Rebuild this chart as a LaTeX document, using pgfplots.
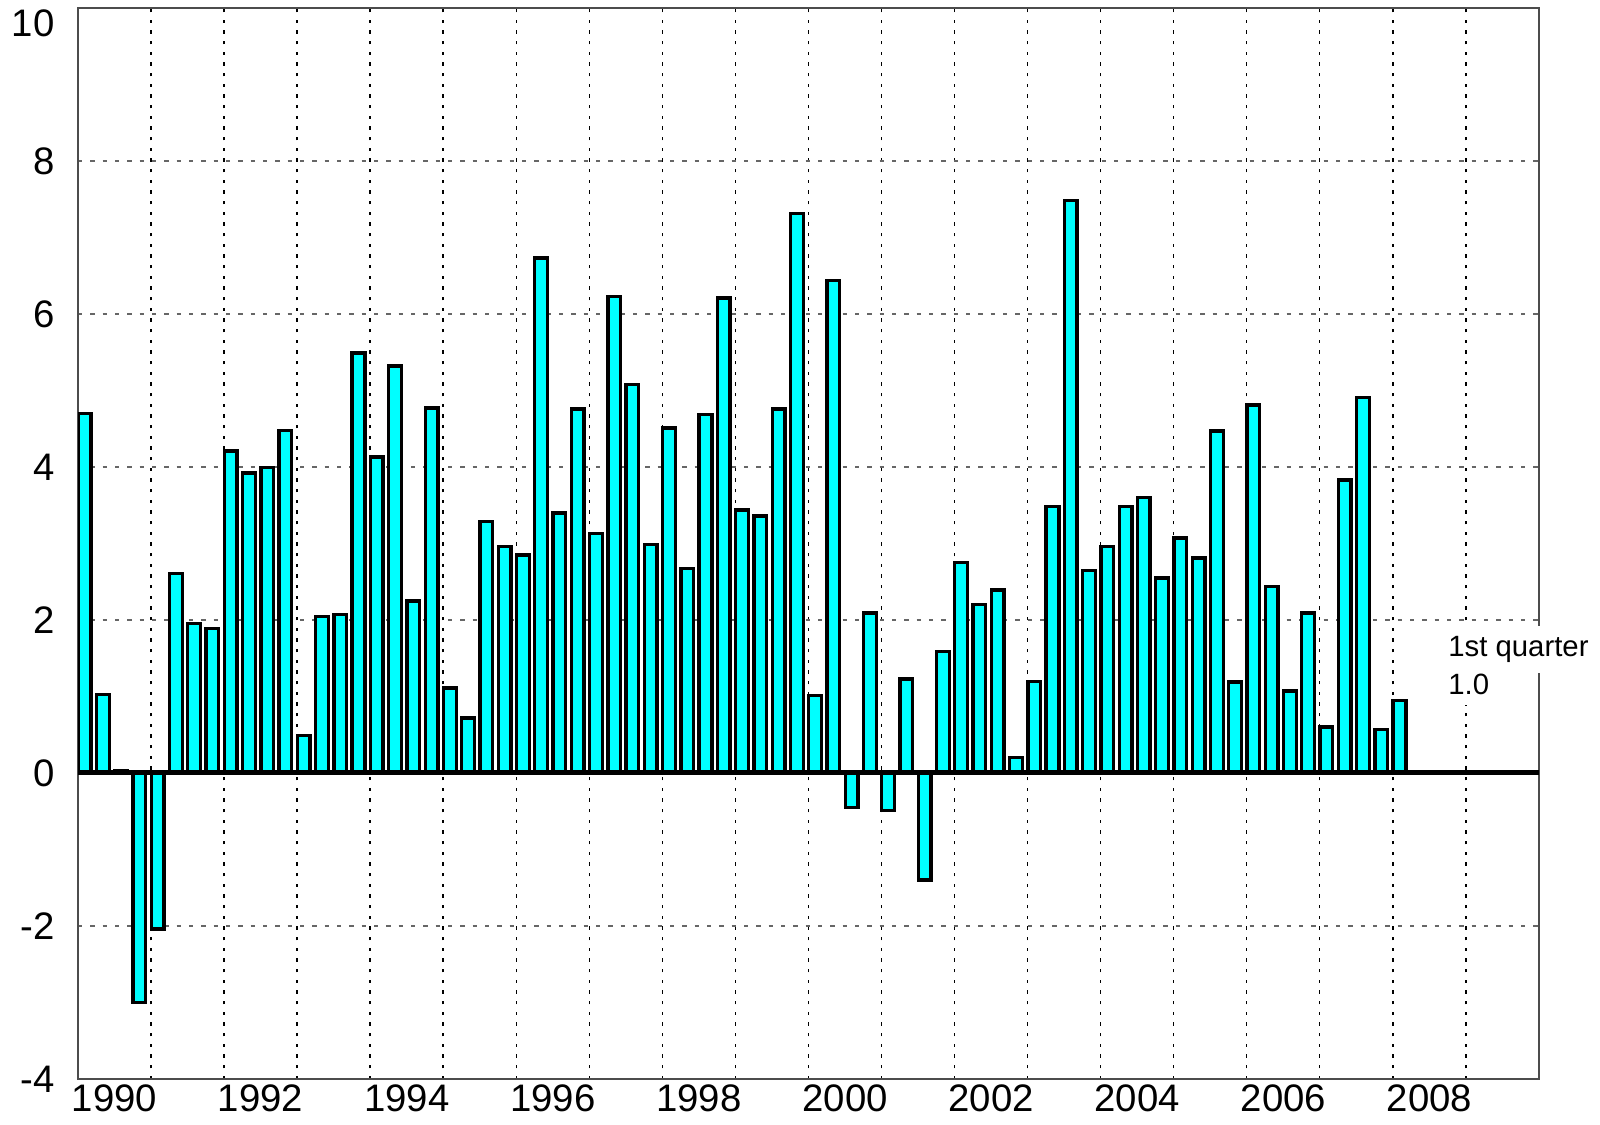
\documentclass[border=0pt]{standalone}
\usepackage{pgfplots}
\pgfplotsset{compat=1.18}
\usepackage{pgfplotstable}
\usepackage{fontspec}
\setmainfont{Liberation Sans}
\definecolor{barcyan}{RGB}{0,255,255}
\pgfplotstableread{
x y
1990.09 4.70
1990.34 1.03
1990.59 0.03
1990.84 -3.00
1991.09 -2.04
1991.34 2.61
1991.59 1.95
1991.84 1.89
1992.09 4.21
1992.34 3.92
1992.59 3.99
1992.84 4.48
1993.09 0.49
1993.34 2.05
1993.59 2.07
1993.84 5.49
1994.09 4.13
1994.34 5.32
1994.59 2.25
1994.84 4.77
1995.09 1.11
1995.34 0.72
1995.59 3.29
1995.84 2.96
1996.09 2.85
1996.34 6.73
1996.59 3.40
1996.84 4.76
1997.09 3.13
1997.34 6.23
1997.59 5.08
1997.84 2.99
1998.09 4.51
1998.34 2.67
1998.59 4.69
1998.84 6.21
1999.09 3.44
1999.34 3.36
1999.59 4.76
1999.84 7.31
2000.09 1.01
2000.34 6.44
2000.59 -0.45
2000.84 2.09
2001.09 -0.49
2001.34 1.23
2001.59 -1.40
2001.84 1.59
2002.09 2.75
2002.34 2.20
2002.59 2.39
2002.84 0.20
2003.09 1.20
2003.34 3.48
2003.59 7.48
2003.84 2.65
2004.09 2.96
2004.34 3.48
2004.59 3.60
2004.84 2.55
2005.09 3.07
2005.34 2.81
2005.59 4.47
2005.84 1.19
2006.09 4.81
2006.34 2.44
2006.59 1.07
2006.84 2.09
2007.09 0.60
2007.34 3.83
2007.59 4.91
2007.84 0.57
2008.09 0.95
}\gdpdata
\begin{document}
\begin{tikzpicture}
\begin{axis}[
  scale only axis,
  width=438.3pt, height=321.3pt,
  xmin=1990, xmax=2010,
  ymin=-4, ymax=10,
  xtick={1990.5,1992.5,...,2008.5},
  xticklabels={1990,1992,1994,1996,1998,2000,2002,2004,2006,2008},
  minor xtick={1991,1992,...,2009},
  xminorgrids=true,
  ytick={-4,-2,0,2,4,6,8},
  yticklabels={-4,-2,0,2,4,6,8},
  extra y ticks={10},
  extra y tick labels={10},
  extra y tick style={ymajorgrids=false, yticklabel style={yshift=-4.5pt}},
  ymajorgrids=true,
  major tick length=0pt,
  minor tick length=0pt,
  tick label style={font=\fontsize{11.5}{13}\selectfont},
  x tick label style={inner sep=1.5pt},
  y tick label style={xshift=-3.5pt},
  minor grid style={black, line width=0.45pt, dash pattern=on 1pt off 2.2pt},
  major grid style={gray!80!black, line width=0.4pt, dash pattern=on 1.3pt off 2.4pt},
  axis line style={gray!60!black, line width=0.5pt},
  tick style={draw=none},
]
\addplot[ybar, bar width=0.174, bar shift=0pt, fill=barcyan, draw=black, line width=1pt]
  table[x=x, y=y] {\gdpdata};
\addplot[black, line width=1.5pt] coordinates {(1990,0) (2010,0)};
\coordinate (qa) at (axis cs:2008.75,1.52);
\coordinate (qb) at (axis cs:2008.75,1.03);
\end{axis}
\node[anchor=base west, fill=white, inner xsep=2.5pt, inner ysep=3.2pt, font=\fontsize{8.8}{10}\selectfont] at ([xshift=-2.5pt]qa) {1st quarter};
\node[anchor=base west, fill=white, inner xsep=2.5pt, inner ysep=3.2pt, font=\fontsize{8.8}{10}\selectfont] at ([xshift=-2.5pt]qb) {1.0};
\pgfresetboundingbox
\path ([shift={(-23.4pt,-13.8pt)}]current axis.south west) rectangle ([shift={(18.3pt,2.4pt)}]current axis.north east);
\end{tikzpicture}
\end{document}
